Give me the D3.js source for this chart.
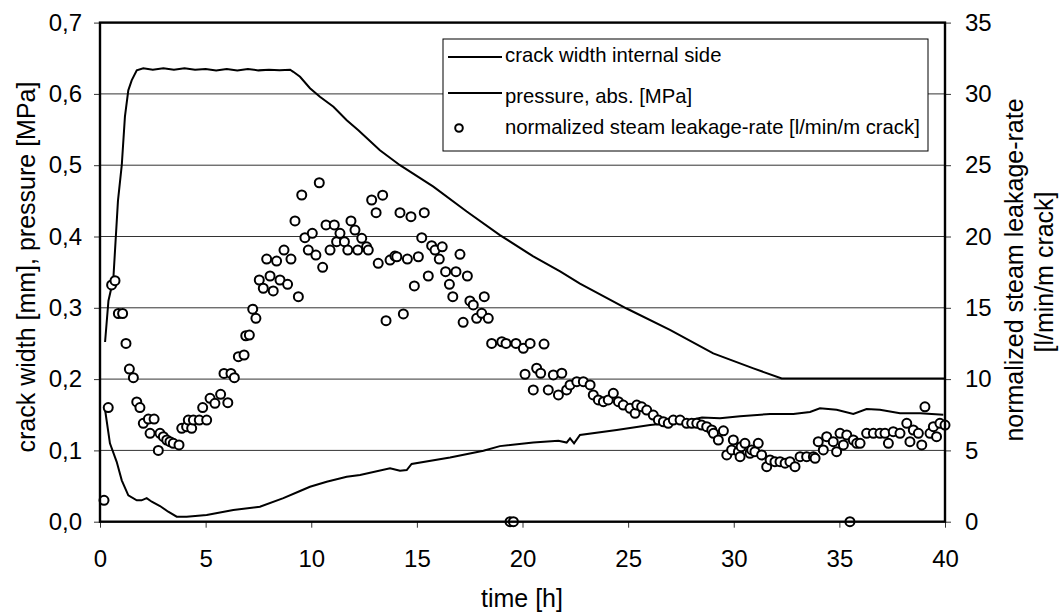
<!DOCTYPE html>
<html>
<head>
<meta charset="utf-8">
<script src="https://cdn.jsdelivr.net/npm/d3@7"></script>
<style>
  body { margin: 0; background: #fff; }
  text { font-family: "Liberation Sans", Arial, sans-serif; fill: #000; }
</style>
</head>
<body>
<div id="display"></div>
<script>
// time [h] and values
const pressureTime = [0.24, 0.4, 0.63, 0.85, 1.03, 1.18, 1.34, 1.5, 1.74, 2.05, 2.5, 3, 3.5, 4, 4.5, 5, 5.5, 6, 6.5, 7, 7.5, 8, 8.5, 9, 9.15, 9.47, 9.94, 10.41, 11.05, 11.68, 12.23, 13.25, 14.2, 15.78, 17.36, 18.93, 20.51, 21.78, 22.72, 24.93, 26.98, 29.03, 30.93, 32.27, 40];
const pressureValue = [0.252, 0.31, 0.34, 0.45, 0.50, 0.568, 0.605, 0.619, 0.633, 0.636, 0.634, 0.636, 0.634, 0.636, 0.634, 0.635, 0.633, 0.635, 0.633, 0.635, 0.633, 0.634, 0.633, 0.634, 0.631, 0.624, 0.608, 0.596, 0.582, 0.563, 0.549, 0.521, 0.5, 0.47, 0.435, 0.402, 0.372, 0.351, 0.334, 0.299, 0.269, 0.236, 0.215, 0.201, 0.201];

const crackTime = [0.24, 0.47, 0.79, 1.03, 1.34, 1.74, 1.97, 2.21, 2.45, 2.84, 3.23, 3.63, 4.1, 5.05, 6.31, 7.57, 8.68, 9.47, 9.94, 10.73, 11.68, 12.31, 13.73, 14.2, 14.52, 14.75, 16.57, 18.15, 18.93, 20.51, 21.7, 22.09, 22.25, 22.44, 22.72, 24.46, 26.04, 27.5, 28.5, 29.35, 30.3, 31.72, 32.82, 33.61, 34.08, 34.87, 35.66, 36.29, 36.92, 37.87, 38.82, 39.92];
const crackValue = [0.157, 0.11, 0.084, 0.058, 0.037, 0.030, 0.030, 0.033, 0.028, 0.022, 0.014, 0.007, 0.007, 0.0094, 0.0164, 0.021, 0.033, 0.043, 0.049, 0.056, 0.063, 0.0655, 0.075, 0.0716, 0.0725, 0.081, 0.090, 0.0996, 0.106, 0.111, 0.1136, 0.111, 0.117, 0.110, 0.1216, 0.1286, 0.1356, 0.140, 0.146, 0.145, 0.148, 0.151, 0.151, 0.154, 0.159, 0.157, 0.151, 0.158, 0.157, 0.152, 0.152, 0.150];

const leakTime = [0.19, 0.39, 0.55, 0.71, 0.87, 1.07, 1.23, 1.39, 1.58, 1.74, 1.89, 2.05, 2.29, 2.37, 2.56, 2.76, 2.84, 3.0, 3.16, 3.31, 3.47, 3.74, 3.87, 4.1, 4.18, 4.34, 4.42, 4.7, 4.86, 5.05, 5.21, 5.44, 5.71, 6.05, 5.87, 6.2, 6.36, 6.55, 6.82, 6.9, 7.07, 7.23, 7.38, 7.54, 7.73, 7.89, 8.05, 8.2, 8.36, 8.52, 8.71, 8.88, 9.04, 9.23, 9.39, 9.55, 9.7, 9.86, 10.05, 10.22, 10.38, 10.54, 10.7, 10.89, 11.09, 11.2, 11.36, 11.57, 11.73, 11.88, 12.07, 12.2, 12.39, 12.62, 12.7, 12.86, 13.07, 13.17, 13.38, 13.54, 13.73, 13.96, 14.05, 14.2, 14.36, 14.55, 14.72, 14.88, 15.07, 15.23, 15.35, 15.54, 15.7, 15.86, 16.06, 16.2, 16.36, 16.54, 16.7, 16.85, 17.04, 17.19, 17.39, 17.51, 17.67, 17.83, 18.07, 18.19, 18.38, 18.54, 19.02, 19.22, 19.41, 19.57, 19.69, 20.04, 20.12, 20.36, 20.51, 20.67, 20.86, 21.02, 21.22, 21.46, 21.7, 21.86, 22.09, 22.25, 22.57, 22.88, 23.2, 23.35, 23.59, 23.83, 24.06, 24.3, 24.54, 24.77, 25.09, 25.33, 25.41, 25.64, 25.88, 26.19, 26.43, 26.67, 26.9, 27.14, 27.46, 27.77, 28.01, 28.25, 28.48, 28.72, 28.96, 29.04, 29.27, 29.51, 29.67, 29.9, 29.98, 30.22, 30.3, 30.35, 30.53, 30.77, 30.85, 31.0, 31.16, 31.32, 31.56, 31.72, 31.95, 32.19, 32.43, 32.66, 32.9, 33.14, 33.45, 33.77, 33.85, 34.0, 34.24, 34.4, 34.71, 34.87, 35.03, 35.19, 35.35, 35.5, 35.66, 35.82, 35.98, 36.29, 36.61, 36.92, 37.16, 37.32, 37.55, 37.87, 38.19, 38.34, 38.5, 38.74, 38.9, 39.05, 39.29, 39.45, 39.6, 39.76, 40.0];
const leakValue = [1.5, 8.0, 16.6, 16.9, 14.6, 14.6, 12.5, 10.7, 10.1, 8.4, 8.0, 6.9, 7.2, 6.2, 7.2, 5.0, 6.2, 5.96, 5.73, 5.61, 5.5, 5.38, 6.55, 6.66, 7.13, 6.55, 7.13, 7.13, 8.0, 7.13, 8.65, 8.3, 8.93, 8.35, 10.4, 10.4, 10.1, 11.57, 11.69, 13.04, 13.09, 14.9, 14.26, 16.95, 16.37, 18.42, 17.23, 16.18, 18.28, 16.95, 19.05, 16.65, 18.42, 21.09, 15.78, 22.91, 19.92, 19.05, 20.22, 18.7, 23.77, 17.84, 20.81, 19.05, 20.81, 19.64, 20.22, 19.64, 19.05, 21.09, 20.45, 19.05, 19.87, 19.28, 19.05, 22.56, 21.67, 18.12, 22.9, 14.1, 18.35, 18.63, 18.58, 21.67, 14.57, 18.42, 21.39, 16.53, 18.58, 19.92, 21.67, 17.23, 19.36, 19.05, 18.42, 19.28, 17.53, 16.65, 15.78, 17.53, 18.75, 13.98, 17.23, 15.48, 15.2, 14.26, 14.61, 15.78, 14.26, 12.5, 12.62, 12.5, 0, 0, 12.5, 12.16, 10.34, 12.5, 9.24, 10.76, 10.41, 12.46, 9.24, 10.29, 8.89, 10.41, 9.24, 9.59, 9.82, 9.82, 9.59, 8.89, 8.54, 8.42, 8.54, 9.0, 8.42, 8.18, 7.95, 7.6, 8.18, 8.06, 7.83, 7.48, 7.13, 7.01, 6.9, 7.13, 7.13, 6.9, 6.9, 6.9, 6.78, 6.66, 6.43, 6.2, 5.73, 6.37, 4.68, 5.03, 5.73, 4.91, 4.56, 5.26, 5.5, 4.8, 5.03, 4.91, 5.5, 4.68, 3.86, 4.33, 4.21, 4.21, 4.1, 4.21, 3.86, 4.56, 4.56, 4.56, 4.45, 5.61, 5.03, 5.96, 5.61, 4.91, 6.2, 5.38, 6.08, 0, 5.73, 5.5, 5.5, 6.2, 6.2, 6.2, 6.2, 5.5, 6.31, 6.2, 6.9, 5.61, 6.43, 6.2, 5.38, 8.06, 6.2, 6.66, 5.96, 6.9, 6.78];

const xTicks = [0, 5, 10, 15, 20, 25, 30, 35, 40];
const leftTicks = [0, 0.1, 0.2, 0.3, 0.4, 0.5, 0.6, 0.7];
const rightTicks = [0, 5, 10, 15, 20, 25, 30, 35];
const legendLabels = ["crack width internal side", "pressure, abs. [MPa]", "normalized steam leakage-rate [l/min/m crack]"];

const svg = d3.select('#display')
    .append('svg')
    .attr('width', 1062)
    .attr('height', 615);

const plotLeft = 100, plotRight = 945, plotTop = 22.6, plotBottom = 521.7;

const x = d3.scaleLinear().domain([0, 40]).range([plotLeft, plotRight]);
const yL = d3.scaleLinear().domain([0, 0.7]).range([plotBottom, plotTop]);
const yR = d3.scaleLinear().domain([0, 35]).range([plotBottom, plotTop]);

const comma = d => d3.format('.1f')(d).replace('.', ',');

// grid lines
svg.append('g')
    .selectAll('line')
    .data(leftTicks.slice(1, -1))
    .join('line')
    .attr('x1', plotLeft).attr('x2', plotRight)
    .attr('y1', d => yL(d)).attr('y2', d => yL(d))
    .attr('stroke', '#333')
    .attr('stroke-width', 1);

// axes
function styleAxis(g) {
    g.select('.domain').remove();
    g.selectAll('.tick line').attr('stroke', '#333').attr('stroke-width', 1);
    g.selectAll('.tick text')
        .style('font-family', '"Liberation Sans", Arial, sans-serif')
        .style('font-size', '24px')
        .attr('fill', '#000');
}

svg.append('g')
    .attr('transform', `translate(${plotLeft},0)`)
    .call(d3.axisLeft(yL).tickValues(leftTicks).tickFormat(comma).tickSize(6).tickPadding(12))
    .call(styleAxis);

svg.append('g')
    .attr('transform', `translate(${plotRight},0)`)
    .call(d3.axisRight(yR).tickValues(rightTicks).tickFormat(d3.format('d')).tickSize(6).tickPadding(14))
    .call(styleAxis);

svg.append('g')
    .attr('transform', `translate(0,${plotBottom})`)
    .call(d3.axisBottom(x).tickValues(xTicks).tickFormat(d3.format('d')).tickSize(6).tickPadding(22))
    .call(styleAxis);

// curves
const pressureLine = d3.line()
    .x((d, i) => x(pressureTime[i]))
    .y(d => yL(d));

const crackLine = d3.line()
    .x((d, i) => x(crackTime[i]))
    .y(d => yL(d));

svg.append('path')
    .attr('d', pressureLine(pressureValue))
    .attr('fill', 'none')
    .attr('stroke', '#000')
    .attr('stroke-width', 2);

svg.append('path')
    .attr('d', crackLine(crackValue))
    .attr('fill', 'none')
    .attr('stroke', '#000')
    .attr('stroke-width', 2);

// leakage points
svg.append('g')
    .selectAll('circle')
    .data(leakValue)
    .join('circle')
    .attr('cx', (d, i) => x(leakTime[i]))
    .attr('cy', d => yR(d))
    .attr('r', 4.5)
    .attr('fill', '#fff')
    .attr('stroke', '#000')
    .attr('stroke-width', 2);

// frame
svg.append('rect')
    .attr('x', plotLeft).attr('y', plotTop)
    .attr('width', plotRight - plotLeft).attr('height', plotBottom - plotTop)
    .attr('fill', 'none')
    .attr('stroke', '#000')
    .attr('stroke-width', 2.4);

// axis titles
svg.append('text')
    .attr('transform', `translate(35,267) rotate(-90)`)
    .attr('text-anchor', 'middle')
    .attr('font-size', '25px')
    .text('crack width [mm], pressure [MPa]');

svg.append('text')
    .attr('transform', `translate(1023,270) rotate(-90)`)
    .attr('text-anchor', 'middle')
    .attr('font-size', '25px')
    .text('normalized steam leakage-rate');

svg.append('text')
    .attr('transform', `translate(1053,272) rotate(-90)`)
    .attr('text-anchor', 'middle')
    .attr('font-size', '25px')
    .text('[l/min/m crack]');

svg.append('text')
    .attr('x', 522)
    .attr('y', 607)
    .attr('text-anchor', 'middle')
    .attr('font-size', '25px')
    .text('time [h]');

// legend
const legend = svg.append('g');
legend.append('rect')
    .attr('x', 443).attr('y', 39)
    .attr('width', 485).attr('height', 112)
    .attr('fill', '#fff')
    .attr('stroke', '#000')
    .attr('stroke-width', 1);

const rowText = [62, 103, 134];
const rowMark = [57, 93, 128];

legend.append('line')
    .attr('x1', 448).attr('x2', 502)
    .attr('y1', rowMark[0]).attr('y2', rowMark[0])
    .attr('stroke', '#000').attr('stroke-width', 2);
legend.append('line')
    .attr('x1', 448).attr('x2', 502)
    .attr('y1', rowMark[1]).attr('y2', rowMark[1])
    .attr('stroke', '#000').attr('stroke-width', 2);
legend.append('circle')
    .attr('cx', 459).attr('cy', rowMark[2])
    .attr('r', 3.8)
    .attr('fill', '#fff')
    .attr('stroke', '#000')
    .attr('stroke-width', 2);

legend.selectAll('text')
    .data(legendLabels)
    .join('text')
    .attr('x', 505)
    .attr('y', (d, i) => rowText[i])
    .attr('font-size', '20.3px')
    .text(d => d);
</script>
</body>
</html>
